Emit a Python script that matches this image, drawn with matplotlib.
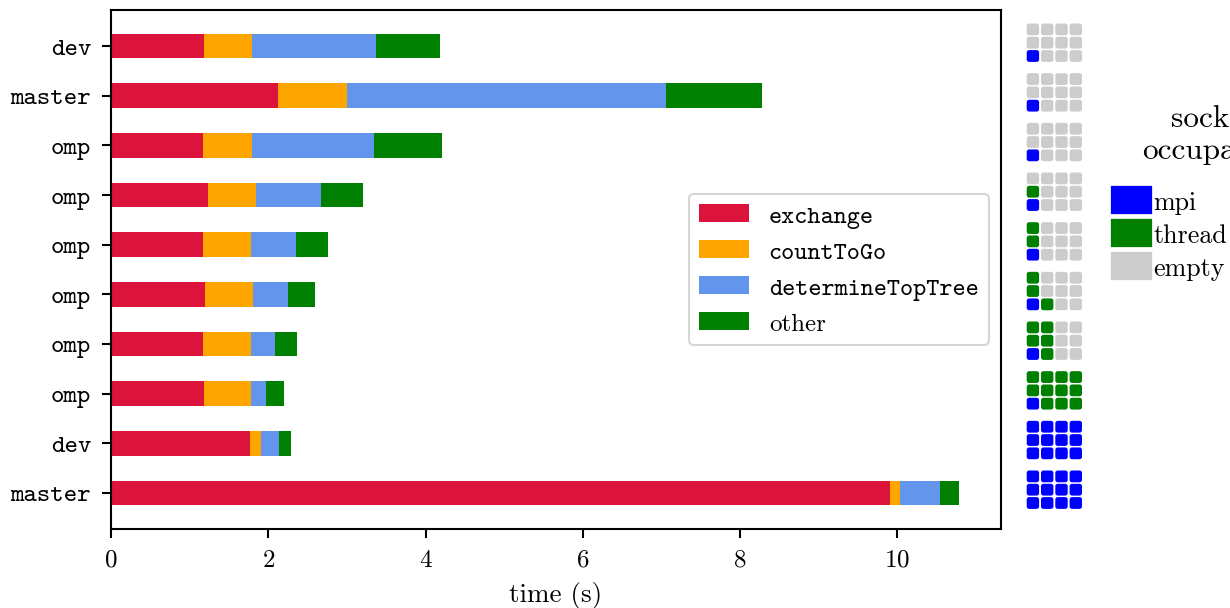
import matplotlib
matplotlib.use("Agg")
import matplotlib.pyplot as plt
from matplotlib.patches import FancyBboxPatch, Patch

plt.rcParams["font.family"] = "cmr10"
plt.rcParams["mathtext.fontset"] = "cm"
plt.rcParams["axes.formatter.use_mathtext"] = True
plt.rcParams["font.size"] = 12

# runs, top to bottom
labels = ["dev", "master", "omp", "omp", "omp", "omp", "omp", "omp", "dev", "master"]
exchange = [1.18, 2.13, 1.17, 1.23, 1.17, 1.20, 1.17, 1.18, 1.77, 9.91]
count_to_go = [0.61, 0.87, 0.62, 0.62, 0.61, 0.61, 0.61, 0.60, 0.14, 0.13]
top_tree = [1.58, 4.06, 1.56, 0.82, 0.57, 0.44, 0.30, 0.19, 0.23, 0.50]
other = [0.82, 1.22, 0.86, 0.54, 0.41, 0.34, 0.29, 0.23, 0.15, 0.24]

# socket usage per run (12 cores, 4 x 3)
n_mpi = [1, 1, 1, 1, 1, 1, 1, 1, 12, 12]
n_threads = [0, 0, 0, 1, 2, 3, 5, 11, 0, 0]

parts = [
    ("exchange", exchange, "crimson", "cmtt10"),
    ("countToGo", count_to_go, "orange", "cmtt10"),
    ("determineTopTree", top_tree, "cornflowerblue", "cmtt10"),
    ("other", other, "green", "cmr10"),
]
cell_colors = {"mpi": "blue", "thread": "green", "empty": "#cccccc"}

W, H, DPI = 1230, 609, 150
fig = plt.figure(figsize=(W / DPI, H / DPI), dpi=DPI)
ax = fig.add_axes([111 / W, 1 - 530 / H, 890 / W, 519 / H])

y = list(range(len(labels)))
left = [0.0] * len(labels)
for name, vals, color, _ in parts:
    ax.barh(y, vals, height=0.5, left=left, color=color, label=name, linewidth=0)
    left = [a + b for a, b in zip(left, vals)]

ax.set_yticks(y)
ax.set_yticklabels(labels, fontfamily="cmtt10", fontsize=12.3)
ax.invert_yaxis()
ax.set_xlabel("time (s)", labelpad=5, fontsize=13)
ax.tick_params(length=4.5, width=1, pad=5)
for s in ax.spines.values():
    s.set_linewidth(1)

leg = ax.legend(loc="center right", labelspacing=0.5)
for txt, (_, _, _, fam) in zip(leg.get_texts(), parts):
    txt.set_fontfamily(fam)

# core grids next to each bar
ylo, yhi = ax.get_ylim()
gx = fig.add_axes([1020 / W, 1 - 530 / H, 70 / W, 519 / H])
gx.set_ylim(ylo, yhi)
unit_px = 519 / (ylo - yhi)
gx.set_xlim(0, 70 / unit_px)
gx.axis("off")

px = 14.3 / unit_px
py = 13.3 / unit_px
cw = 12.4 / unit_px
ch = 11.8 / unit_px
x0 = 6.7 / unit_px
for i in y:
    yc = i - 3.3 / unit_px
    k = 0
    for col in range(4):
        for row in range(3):
            if k < n_mpi[i]:
                kind = "mpi"
            elif k < n_mpi[i] + n_threads[i]:
                kind = "thread"
            else:
                kind = "empty"
            k += 1
            cx = x0 + col * px
            cy = yc + (1 - row) * py
            gx.add_patch(FancyBboxPatch(
                (cx, cy - ch / 2), cw, ch,
                boxstyle="round,pad=0,rounding_size=%g" % (2.5 / unit_px),
                facecolor=cell_colors[kind], edgecolor="none"))

fig.text(1213 / W, 1 - 135 / H, "socket\noccupancy", ha="center", va="center",
         multialignment="center", fontsize=15)
handles = [Patch(facecolor=c, edgecolor=c, linewidth=3, joinstyle="round")
           for c in cell_colors.values()]
fig.legend(handles, ["mpi", "thread", "empty"], loc="upper left",
           bbox_to_anchor=(1114 / W, 1 - 190 / H), frameon=False,
           fontsize=12.5, borderpad=0, borderaxespad=0, handlelength=1.35,
           handleheight=0.95, handletextpad=0.15, labelspacing=0.3)

fig.savefig("out.png", dpi=DPI)
